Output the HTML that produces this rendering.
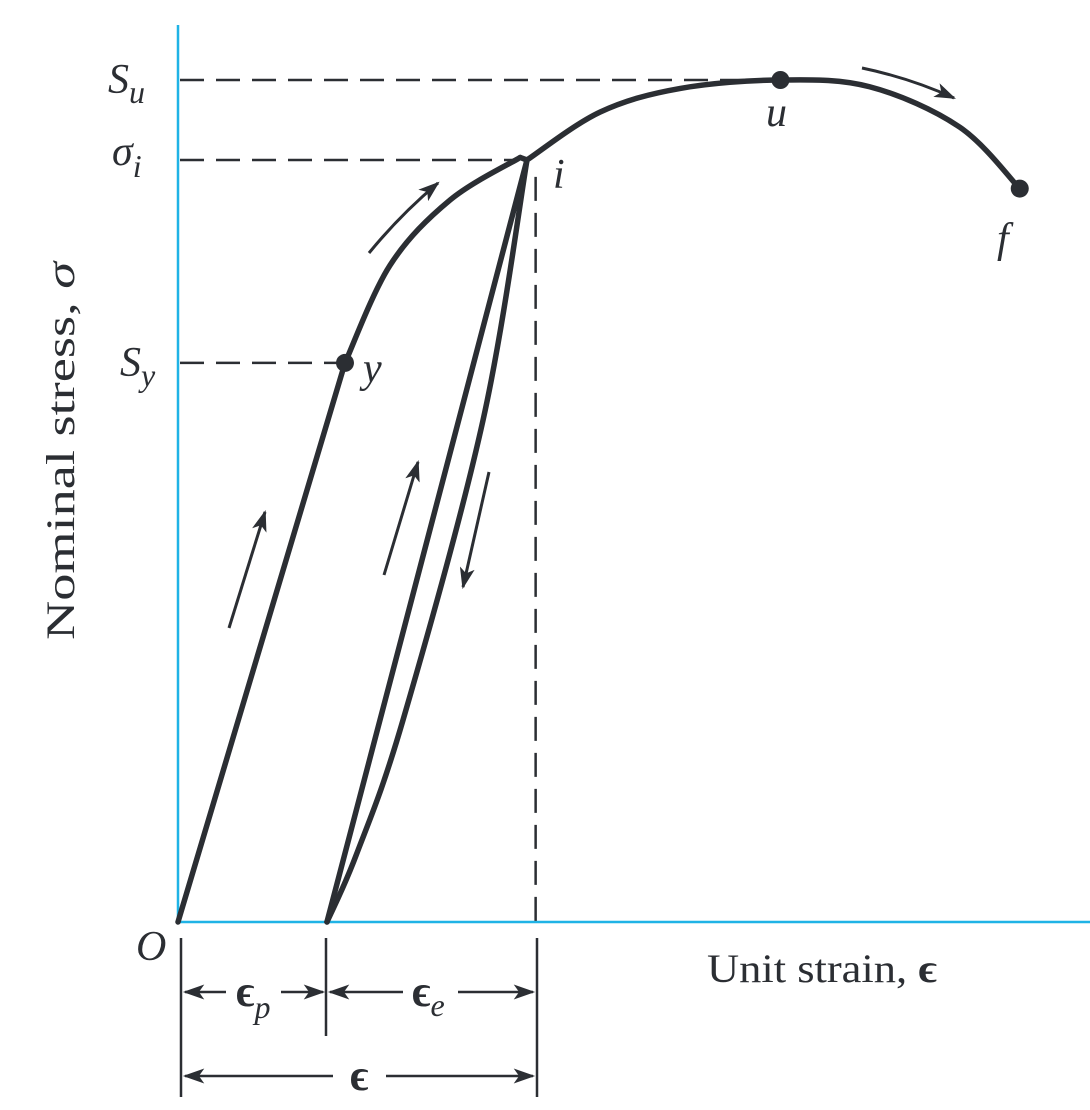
<!DOCTYPE html>
<html><head><meta charset="utf-8"><style>
html,body{margin:0;padding:0;background:#fff;}
svg{display:block;}
text{font-family:"Liberation Serif",serif;fill:#2b2e33;}
</style></head><body>
<svg id="chart" width="1090" height="1110" viewBox="0 0 1090 1110" xmlns="http://www.w3.org/2000/svg">
<defs>
<marker id="ah" viewBox="0 0 20 14" refX="18" refY="7" markerWidth="22" markerHeight="15" markerUnits="userSpaceOnUse" orient="auto">
<path d="M0,0 L20,7 L0,14 L5,7 Z" fill="#2b2e33"/>
</marker>
</defs>
<g id="axes">
<line x1="178" y1="25" x2="178" y2="923" stroke="#1fb3e6" stroke-width="2.5"/>
<line x1="177" y1="922" x2="1090" y2="922" stroke="#1fb3e6" stroke-width="2.5"/>
</g>
<g id="guides"></g>
<g id="curves"></g>
<g id="points"></g>
<g id="arrows" stroke="#2b2e33" stroke-width="3" fill="none">
<line x1="229" y1="628" x2="265" y2="512" marker-end="url(#ah)"/>
<path d="M369,253 Q400,215 438,183" marker-end="url(#ah)"/>
<line x1="384" y1="575" x2="418" y2="462" marker-end="url(#ah)"/>
<line x1="489" y1="472" x2="463" y2="587" marker-end="url(#ah)"/>
<path d="M862,68 Q910,78 954,98" marker-end="url(#ah)"/>
</g>
<g id="labels" font-style="italic">
<text x="108" y="93" font-size="42" font-style="italic">S<tspan font-size="32" dy="10">u</tspan></text>
<text x="112" y="165" font-size="42" font-style="italic">σ<tspan font-size="32" dy="12">i</tspan></text>
<text x="120" y="376" font-size="42" font-style="italic">S<tspan font-size="32" dy="10">y</tspan></text>
<text x="136" y="960" font-size="42" font-style="italic">O</text>
<text x="766" y="126" font-size="42" font-style="italic">u</text>
<text x="553" y="188" font-size="42" font-style="italic">i</text>
<text x="363" y="382" font-size="42" font-style="italic">y</text>
<text x="997" y="252" font-size="42" font-style="italic">f</text>
</g>
<text x="707" y="982" font-size="40" textLength="230" lengthAdjust="spacingAndGlyphs">Unit strain, <tspan font-weight="bold">ϵ</tspan></text>
<text transform="translate(74,451) rotate(-90)" text-anchor="middle" font-size="40" textLength="378" lengthAdjust="spacingAndGlyphs">Nominal stress, <tspan font-style="italic">σ</tspan></text>
<g id="dims" stroke="#2b2e33" stroke-width="2.5">
<line x1="181" y1="938" x2="181" y2="1097"/>
<line x1="326" y1="938" x2="326" y2="1036"/>
<line x1="537" y1="938" x2="537" y2="1097"/>
<line x1="226" y1="992" x2="185" y2="992" marker-end="url(#ah)"/>
<line x1="281" y1="992" x2="323" y2="992" marker-end="url(#ah)"/>
<line x1="403" y1="992" x2="330" y2="992" marker-end="url(#ah)"/>
<line x1="458" y1="992" x2="533" y2="992" marker-end="url(#ah)"/>
<line x1="333" y1="1076" x2="185" y2="1076" marker-end="url(#ah)"/>
<line x1="386" y1="1076" x2="533" y2="1076" marker-end="url(#ah)"/>
</g>
<text x="236" y="1006" font-size="44" font-weight="bold">ϵ<tspan font-size="32" font-weight="normal" font-style="italic" dy="12">p</tspan></text>
<text x="412" y="1006" font-size="44" font-weight="bold">ϵ<tspan font-size="32" font-weight="normal" font-style="italic" dy="10">e</tspan></text>
<text x="350" y="1090" font-size="44" font-weight="bold">ϵ</text>
</svg>
<script>
// strain units (x) and stress units (y, Su = 100)
const elasticStrain = [0, 18.35];
const elasticStress = [0, 66.4];
const hardenStrain = [18.35, 23.3, 29.9, 37.6];
const hardenStress = [66.4, 78.0, 85.75, 90.8];
const neckStrain = [38.35, 46.4, 55.2, 66.2, 76.0, 85.9, 92.5];
const neckStress = [90.5, 96.2, 99.0, 100, 99.2, 94.4, 87.1];
const unloadStrain = [38.35, 33.52, 24.73, 19.6, 16.37];
const unloadStress = [90.5, 59.6, 24.0, 8.0, 0];
const reloadStrain = [16.37, 38.35];
const reloadStress = [0, 90.5];
const pointNames = ['y', 'u', 'f'];
const pointStrain = [18.35, 66.2, 92.5];
const pointStress = [66.4, 100, 87.1];
const guideStress = [100, 90.5, 66.4];
const guideStrainEnd = [66.2, 37.5, 18.35];
const guideNames = ['su', 'sigma-i', 'sy'];
const iStrain = 39.3;

const xS = v => 178 + v * 9.1;
const yS = v => 922 - v * 8.42;
const NS = 'http://www.w3.org/2000/svg';

function smoothPath(xs, ys, move) {
  const p = xs.map((x, i) => [xS(x), yS(ys[i])]);
  let d = move === false ? '' : 'M' + p[0][0] + ',' + p[0][1];
  for (let i = 0; i < p.length - 1; i++) {
    const p0 = p[i - 1] || p[i], p1 = p[i], p2 = p[i + 1], p3 = p[i + 2] || p2;
    const c1x = p1[0] + (p2[0] - p0[0]) / 6, c1y = p1[1] + (p2[1] - p0[1]) / 6;
    const c2x = p2[0] - (p3[0] - p1[0]) / 6, c2y = p2[1] - (p3[1] - p1[1]) / 6;
    d += ' C' + c1x + ',' + c1y + ' ' + c2x + ',' + c2y + ' ' + p2[0] + ',' + p2[1];
  }
  return d;
}
function addPath(parent, d, name) {
  const el = document.createElementNS(NS, 'path');
  el.setAttribute('d', d);
  el.setAttribute('fill', 'none');
  el.setAttribute('stroke', '#2b2e33');
  el.setAttribute('stroke-width', '5.5');
  el.setAttribute('stroke-linejoin', 'round');
  el.setAttribute('stroke-linecap', 'round');
  
  
  parent.appendChild(el);
}
const curves = document.getElementById('curves');
const lin = 'M' + xS(elasticStrain[0]) + ',' + yS(elasticStress[0]) + ' L' + xS(elasticStrain[1]) + ',' + yS(elasticStress[1]);
addPath(curves, lin + smoothPath(hardenStrain, hardenStress, false), 'stress-strain-curve-loading');
addPath(curves, 'M' + xS(hardenStrain[hardenStrain.length - 1]) + ',' + yS(hardenStress[hardenStress.length - 1]) + ' L' + xS(neckStrain[0]) + ',' + yS(neckStress[0]), 'curve-peak-i');
addPath(curves, smoothPath(neckStrain, neckStress), 'stress-strain-curve-necking');
addPath(curves, smoothPath(unloadStrain, unloadStress), 'unload-curve');
addPath(curves, smoothPath(reloadStrain, reloadStress), 'reload-line');

const guides = document.getElementById('guides');
guideStress.forEach((s, i) => {
  const l = document.createElementNS(NS, 'line');
  l.setAttribute('x1', 180); l.setAttribute('x2', xS(guideStrainEnd[i]));
  l.setAttribute('y1', yS(s)); l.setAttribute('y2', yS(s));
  l.setAttribute('stroke', '#2b2e33'); l.setAttribute('stroke-width', '2.5');
  l.setAttribute('stroke-dasharray', '24 12');
  
  
  guides.appendChild(l);
});
const v = document.createElementNS(NS, 'line');
v.setAttribute('x1', xS(iStrain)); v.setAttribute('x2', xS(iStrain));
v.setAttribute('y1', yS(88.5)); v.setAttribute('y2', 922);
v.setAttribute('stroke', '#2b2e33'); v.setAttribute('stroke-width', '2.5');
v.setAttribute('stroke-dasharray', '24 12');


guides.appendChild(v);

const pts = document.getElementById('points');
pointStrain.forEach((s, i) => {
  const c = document.createElementNS(NS, 'circle');
  c.setAttribute('cx', xS(s)); c.setAttribute('cy', yS(pointStress[i]));
  c.setAttribute('r', 9); c.setAttribute('fill', '#2b2e33');
  
  
  pts.appendChild(c);
});
</script>
</body></html>
